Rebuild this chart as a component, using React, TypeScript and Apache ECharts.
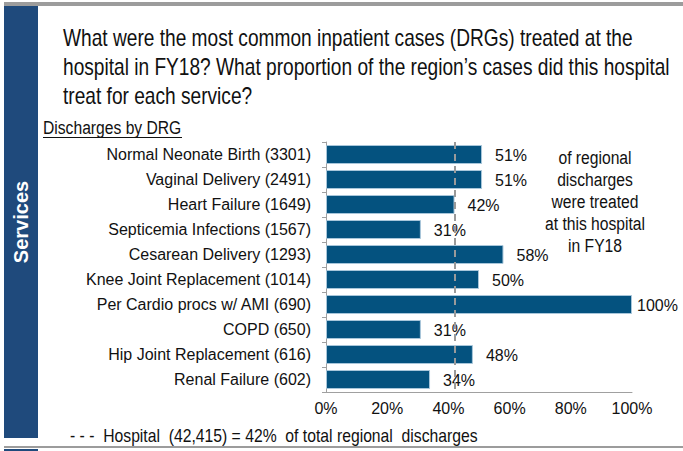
import React, { useEffect, useRef } from "react";
import * as echarts from "echarts";

const drgNames = [
  "Normal Neonate Birth",
  "Vaginal Delivery",
  "Heart Failure",
  "Septicemia Infections",
  "Cesarean Delivery",
  "Knee Joint Replacement",
  "Per Cardio procs w/ AMI",
  "COPD",
  "Hip Joint Replacement",
  "Renal Failure",
];
const drgCounts = [3301, 2491, 1649, 1567, 1293, 1014, 690, 650, 616, 602];
const regionalShare = [51, 51, 42, 31, 58, 50, 100, 31, 48, 34];
const hospitalShare = 42;
const xTicks = [0, 20, 40, 60, 80, 100];

const titleLines = [
  "What were the most common inpatient cases (DRGs) treated at the",
  "hospital in FY18? What proportion of the region\u2019s cases did this hospital",
  "treat for each service?",
];
const noteLines = ["of regional", "discharges", "were treated", "at this hospital", "in FY18"];
const footnote = "- - -  Hospital  (42,415) = 42%  of total regional  discharges";

const FONT = "'Liberation Sans', Arial, sans-serif";

export default function App() {
  const ref = useRef<HTMLDivElement>(null);
  useEffect(() => {
    document.body.style.margin = "0";
    const chart = echarts.init(ref.current!, null, { renderer: "svg" });
    const categories = drgNames.map((n, i) => `${n} (${drgCounts[i]})`);
    const graphics: any[] = [
      { type: "rect", shape: { x: 4, y: 2, width: 679, height: 4 }, style: { fill: "#9c9c9c" } },
      { type: "rect", shape: { x: 4, y: 6, width: 34, height: 432 }, style: { fill: "#1f4a7c" } },
      { type: "rect", shape: { x: 4, y: 446, width: 679, height: 2 }, style: { fill: "#9c9c9c" } },
      { type: "rect", shape: { x: 4, y: 449, width: 34, height: 2 }, style: { fill: "#1f4a7c" } },
      {
        type: "text",
        x: 21,
        y: 222,
        rotation: Math.PI / 2,
        style: {
          text: "Services",
          fill: "#ffffff",
          font: `bold 20px ${FONT}`,
          align: "center",
          verticalAlign: "middle",
        },
      },
      ...titleLines.map((t, i) => ({
        type: "text",
        x: 63,
        y: 38 + i * 29,
        scaleX: 0.832,
        style: { text: t, fill: "#111", font: `23px ${FONT}`, verticalAlign: "middle" },
      })),
      {
        type: "text",
        x: 43,
        y: 128,
        scaleX: 0.87,
        style: { text: "Discharges by DRG", fill: "#111", font: `18px ${FONT}`, verticalAlign: "middle" },
      },
      { type: "rect", shape: { x: 43, y: 137, width: 139, height: 1 }, style: { fill: "#111" } },
      ...noteLines.map((t, i) => ({
        type: "text",
        x: 595,
        y: 158 + i * 22,
        scaleX: 0.87,
        style: { text: t, fill: "#111", font: `18px ${FONT}`, align: "center", verticalAlign: "middle" },
      })),
      {
        type: "text",
        x: 70,
        y: 436,
        scaleX: 0.874,
        style: { text: footnote, fill: "#111", font: `18px ${FONT}`, verticalAlign: "middle" },
      },
    ];
    chart.setOption({
      animation: false,
      grid: { left: 326, right: 51, top: 142, bottom: 59, containLabel: false },
      xAxis: {
        type: "value",
        min: 0,
        max: 100,
        interval: 20,
        data: xTicks,
        axisLine: { show: true, lineStyle: { color: "#a0a0a0", width: 1 } },
        axisTick: { show: false },
        splitLine: { show: false },
        axisLabel: { formatter: "{value}%", fontSize: 16, color: "#111", fontFamily: FONT, margin: 8 },
      },
      yAxis: {
        type: "category",
        inverse: true,
        data: categories,
        axisLine: { show: true, lineStyle: { color: "#a0a0a0", width: 1 } },
        axisTick: { show: true, length: 4, inside: false, lineStyle: { color: "#a0a0a0" } },
        axisLabel: { fontSize: 16, color: "#111", fontFamily: FONT, margin: 15 },
      },
      series: [
        {
          type: "bar",
          data: regionalShare.map((v) => (v >= 100 ? { value: v, label: { distance: 5 } } : v)),
          barCategoryGap: "24%",
          itemStyle: { color: "#04527f", borderColor: "#a8c6da", borderWidth: 1 },
          label: {
            show: true,
            position: "right",
            distance: 13,
            formatter: "{c}%",
            fontSize: 16,
            color: "#111",
            fontFamily: FONT,
            offset: [0, 1],
          },
          markLine: {
            silent: true,
            symbol: "none",
            label: { show: false },
            lineStyle: { color: "#9a9a9a", type: [7, 5], width: 2 },
            data: [{ xAxis: hospitalShare }],
          },
        },
      ],
      graphic: graphics,
    });
    return () => chart.dispose();
  }, []);
  return <div ref={ref} style={{ width: 683, height: 451 }} />;
}
